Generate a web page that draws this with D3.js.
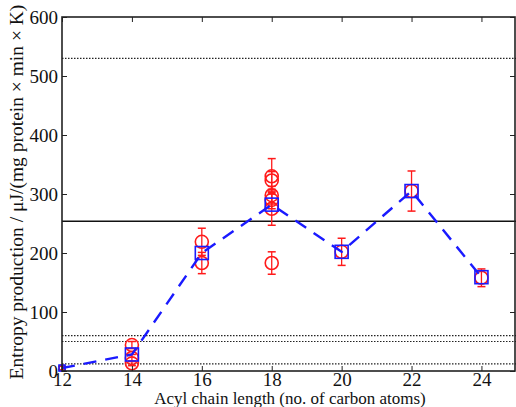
<!DOCTYPE html>
<html>
<head>
<meta charset="utf-8">
<script src="https://cdn.jsdelivr.net/npm/d3@7"></script>
<style>
  body { margin: 0; background: #fff; }
</style>
</head>
<body>
<div id="vis"></div>
<script>
// chain lengths and mean values (blue squares)
const chainLengths = [12, 14, 16, 18, 20, 22, 24];
const meanValues = [5, 28, 200, 282, 202, 305, 159];

// individual measurements (red circles) with error half-widths
const pointX = [12, 14, 14, 14, 16, 16, 18, 18, 18, 18, 18, 18, 20, 22, 24];
const pointY = [5, 44, 22, 13, 219, 183, 330, 323, 298, 290, 275, 183, 202, 305, 158];
const pointErr = [3, 6, 6, 4, 23, 18, 30, 15, 15, 15, 28, 19, 23, 34, 15];

// reference levels
const dottedLevels = [530, 60, 50, 12];
const solidLevels = [254];

const xTicks = [12, 14, 16, 18, 20, 22, 24];
const yTicks = [0, 100, 200, 300, 400, 500, 600];

const FONT = "'Liberation Serif', 'DejaVu Serif', serif";
const margin = { top: 17, right: 0, bottom: 36, left: 62 };
const width = 516 - margin.left - margin.right;
const height = 407 - margin.top - margin.bottom;

const svg = d3.select("#vis").append("svg")
    .attr("width", 516)
    .attr("height", 407);
const g = svg.append("g")
    .attr("transform", "translate(" + margin.left + "," + margin.top + ")");

const x = d3.scaleLinear().domain([12, 24.96]).range([0, width - 1]);
const y = d3.scaleLinear().domain([0, 600]).range([height, 0]);

// reference lines
g.selectAll(".dotted").data(dottedLevels).join("line")
    .attr("x1", 0).attr("x2", width)
    .attr("y1", d => y(d)).attr("y2", d => y(d))
    .attr("stroke", "#222").attr("stroke-width", 1.2)
    .attr("stroke-dasharray", "1.5,1.5");
g.selectAll(".solid").data(solidLevels).join("line")
    .attr("x1", 0).attr("x2", width)
    .attr("y1", d => y(d)).attr("y2", d => y(d))
    .attr("stroke", "#111").attr("stroke-width", 1.5);

// error bars
const pts = pointX.map((v, i) => ({ x: v, y: pointY[i], e: pointErr[i] }));
const red = "#ff1a1a";
g.selectAll(".err").data(pts).join("line")
    .attr("x1", d => x(d.x)).attr("x2", d => x(d.x))
    .attr("y1", d => y(d.y - d.e)).attr("y2", d => y(d.y + d.e))
    .attr("stroke", red).attr("stroke-width", 1.3);
g.selectAll(".capT").data(pts).join("line")
    .attr("x1", d => x(d.x) - 4).attr("x2", d => x(d.x) + 4)
    .attr("y1", d => y(d.y + d.e)).attr("y2", d => y(d.y + d.e))
    .attr("stroke", red).attr("stroke-width", 1.5);
g.selectAll(".capB").data(pts).join("line")
    .attr("x1", d => x(d.x) - 4).attr("x2", d => x(d.x) + 4)
    .attr("y1", d => y(d.y - d.e)).attr("y2", d => y(d.y - d.e))
    .attr("stroke", red).attr("stroke-width", 1.5);

// circles
g.selectAll(".pt").data(pts).join("circle")
    .attr("cx", d => x(d.x)).attr("cy", d => y(d.y))
    .attr("r", d => d.x === 12 ? 3 : 6.5)
    .attr("fill", "none").attr("stroke", red).attr("stroke-width", 1.6);

// mean line
const means = chainLengths.map((v, i) => ({ x: v, y: meanValues[i] }));
g.append("path").datum(means)
    .attr("d", d3.line().x(d => x(d.x)).y(d => y(d.y)))
    .attr("fill", "none").attr("stroke", "#1a1aff").attr("stroke-width", 2.4)
    .attr("stroke-dasharray", "13,9");

g.selectAll(".sq").data(means).join("rect")
    .attr("x", d => x(d.x) - (d.x === 12 ? 3 : 6.5))
    .attr("y", d => y(d.y) - (d.x === 12 ? 3 : 6.5))
    .attr("width", d => d.x === 12 ? 6 : 13)
    .attr("height", d => d.x === 12 ? 6 : 13)
    .attr("fill", "none").attr("stroke", "#1a1aff").attr("stroke-width", 1.6);

// axes (ticks inward on all sides)
const axStyle = sel => {
    sel.attr("font-family", FONT).attr("font-size", 19);
    sel.select(".domain").remove();
    sel.selectAll("line").attr("stroke", "#222");
    sel.selectAll("text").attr("fill", "#111")
        .style("font-family", FONT).style("font-size", "19px");
};
g.append("g").attr("transform", `translate(0,${height})`)
    .call(d3.axisBottom(x).tickValues(xTicks).tickSizeInner(-5).tickPadding(1).tickFormat(d3.format("d")))
    .call(axStyle);
g.append("g")
    .call(d3.axisLeft(y).tickValues(yTicks).tickSizeInner(-5).tickPadding(4).tickFormat(d3.format("d")))
    .call(axStyle);
g.append("g")
    .call(d3.axisTop(x).tickValues(xTicks).tickSizeInner(-5).tickFormat(""))
    .call(axStyle);
g.append("g").attr("transform", `translate(${width - 1},0)`)
    .call(d3.axisRight(y).tickValues(yTicks).tickSizeInner(-5).tickFormat(""))
    .call(axStyle);

// frame
g.append("rect").attr("x", 0).attr("y", 0).attr("width", width - 1).attr("height", height)
    .attr("fill", "none").attr("stroke", "#222").attr("stroke-width", 1.6);

// labels
svg.append("text")
    .attr("x", 290).attr("y", 404)
    .attr("text-anchor", "middle").style("font-family", FONT).style("font-size", "17px").attr("fill", "#111")
    .text("Acyl chain length (no. of carbon atoms)");
svg.append("text")
    .attr("transform", `translate(23,192) rotate(-90)`)
    .attr("text-anchor", "middle").style("font-family", FONT).style("font-size", "19.5px").attr("fill", "#111")
    .text("Entropy production / μJ/(mg protein × min × K)");
</script>
</body>
</html>
